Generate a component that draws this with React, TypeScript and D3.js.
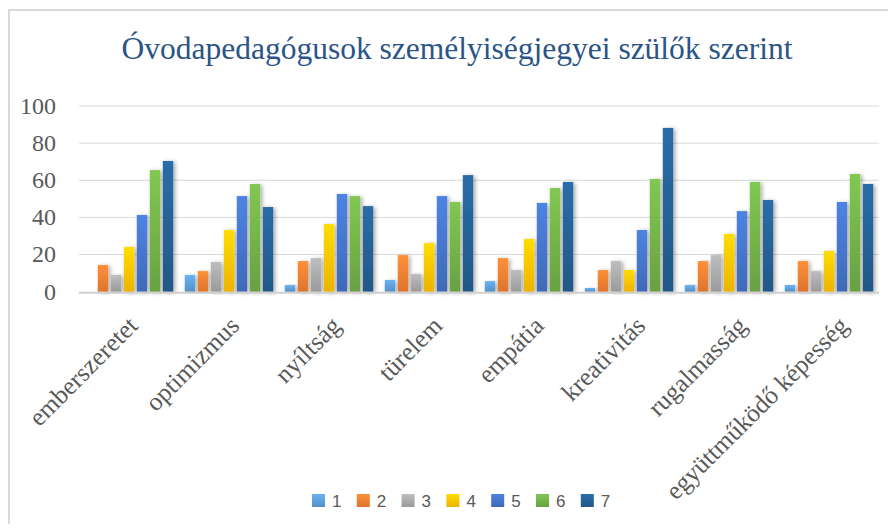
import {useEffect, useRef} from 'react';
import * as d3 from 'd3';

const [W, H] = [896, 532];

const categories = ['emberszeretet', 'optimizmus', 'nyíltság', 'türelem', 'empátia', 'kreativitás', 'rugalmasság', 'együttműködő képesség'];
const seriesNames = ['1', '2', '3', '4', '5', '6', '7'];
const s1 = [0, 9, 3.6, 6.3, 5.7, 2, 3.6, 3.6];
const s2 = [14.4, 11.1, 16.5, 19.7, 18.1, 11.7, 16.5, 16.5];
const s3 = [9, 16, 18.1, 9.5, 11.7, 16.5, 19.7, 11.1];
const s4 = [24.1, 33.2, 36.4, 26.2, 28.4, 11.7, 31.1, 21.9];
const s5 = [41.3, 51.5, 52.6, 51.5, 47.8, 33.2, 43.4, 48.3];
const s6 = [65.5, 58, 51.5, 48.3, 55.8, 60.7, 59.1, 63.4];
const s7 = [70.4, 45.6, 46.1, 62.8, 59.1, 88.2, 49.4, 58];
const yTicks = [0, 20, 40, 60, 80, 100];
const colors = ['#5B9BD5', '#ED7D31', '#A5A5A5', '#FFC000', '#4472C4', '#70AD47', '#255E91'];
const title = 'Óvodapedagógusok személyiségjegyei szülők szerint';

const SERIF = "'Liberation Serif', 'Times New Roman', serif";
const SANS = "'Liberation Sans', Arial, sans-serif";

function App() {
    const svgRef = useRef<SVGSVGElement>(null);

    useEffect(() => {
        if (!svgRef.current) return;
        const series = [s1, s2, s3, s4, s5, s6, s7];
        const svg = d3.select(svgRef.current);
        svg.selectAll('*').remove();

        const defs = svg.append('defs');
        colors.forEach((c, i) => {
            const g = defs.append('linearGradient').attr('id', 'grad' + i)
                .attr('x1', 0).attr('y1', 0).attr('x2', 0).attr('y2', 1);
            g.append('stop').attr('offset', '0%').attr('stop-color', d3.color(c)!.brighter(0.4).formatHex());
            g.append('stop').attr('offset', '100%').attr('stop-color', d3.color(c)!.darker(0.2).formatHex());
        });
        const f = defs.append('filter').attr('id', 'shadow')
            .attr('x', '-50%').attr('y', '-10%').attr('width', '200%').attr('height', '120%');
        f.append('feDropShadow').attr('dx', 2).attr('dy', 1).attr('stdDeviation', 2)
            .attr('flood-color', '#000').attr('flood-opacity', 0.35);

        // frame (only top and left edges fall inside the picture)
        svg.append('rect').attr('x', 9).attr('y', 10).attr('width', W + 20).attr('height', H + 20)
            .attr('fill', '#fff').attr('stroke', '#d9d9d9').attr('stroke-width', 2);

        svg.append('text').text(title)
            .attr('x', 457).attr('y', 59).attr('text-anchor', 'middle')
            .attr('font-family', SERIF).attr('font-size', 31.5)
            .attr('fill', '#2B5487');

        const x0 = d3.scaleBand<string>().domain(categories).range([79, 879]);
        const x1 = d3.scaleBand<string>().domain(seriesNames).range([0, x0.bandwidth()])
            .paddingInner(0.2).paddingOuter(0.445);
        const y = d3.scaleLinear().domain([0, 100]).range([291.7, 106]);

        const grid = svg.append('g');
        grid.selectAll('line').data(yTicks.filter(t => t > 0)).enter().append('line')
            .attr('x1', 79).attr('x2', 879)
            .attr('y1', d => y(d)).attr('y2', d => y(d))
            .attr('stroke', '#d9d9d9').attr('stroke-width', 1);

        svg.append('g').selectAll('text').data(yTicks).enter().append('text')
            .text(d => d)
            .attr('x', 56).attr('y', d => y(d)).attr('dy', '0.33em')
            .attr('text-anchor', 'end')
            .attr('font-family', SERIF).attr('font-size', 24)
            .attr('fill', '#595959');

        const groups = svg.append('g').selectAll('g').data(categories).enter().append('g')
            .attr('transform', d => `translate(${x0(d)},0)`);
        groups.selectAll('rect')
            .data((_, ci) => series.map((s, si) => ({si, v: s[ci]})))
            .enter().append('rect')
            .attr('x', d => x1(seriesNames[d.si])!)
            .attr('width', x1.bandwidth())
            .attr('y', d => y(d.v))
            .attr('height', d => y(0) - y(d.v))
            .attr('fill', d => `url(#grad${d.si})`)
            .attr('filter', d => (d.v > 0 ? 'url(#shadow)' : null));

        svg.append('line').attr('x1', 79).attr('x2', 879)
            .attr('y1', y(0) + 1).attr('y2', y(0) + 1)
            .attr('stroke', '#d0d0d0').attr('stroke-width', 2);

        svg.append('g').selectAll('text').data(categories).enter().append('text')
            .text(d => d)
            .attr('transform', (d, i) => `translate(${x0(d)! + x0.bandwidth() / 2 + 4 + i * 1.5},321) rotate(-45)`)
            .attr('text-anchor', 'end').attr('dy', '0.35em')
            .attr('font-family', SERIF).attr('font-size', 25.5)
            .attr('fill', '#595959');

        const legend = svg.append('g').selectAll('g').data(seriesNames).enter().append('g')
            .attr('transform', (_, i) => `translate(${312 + i * 44.8},494)`);
        legend.append('rect').attr('width', 13).attr('height', 13)
            .attr('fill', (_, i) => `url(#grad${i})`);
        legend.append('text').text(d => d)
            .attr('x', 20).attr('y', 7).attr('dy', '0.36em')
            .attr('font-family', SANS).attr('font-size', 17)
            .attr('fill', '#595959');
    }, []);

    return (
        <div style={{width: W, height: H, margin: -8}}>
            <svg ref={svgRef} width={W} height={H} style={{display: 'block'}} />
        </div>
    );
}

export default App;
